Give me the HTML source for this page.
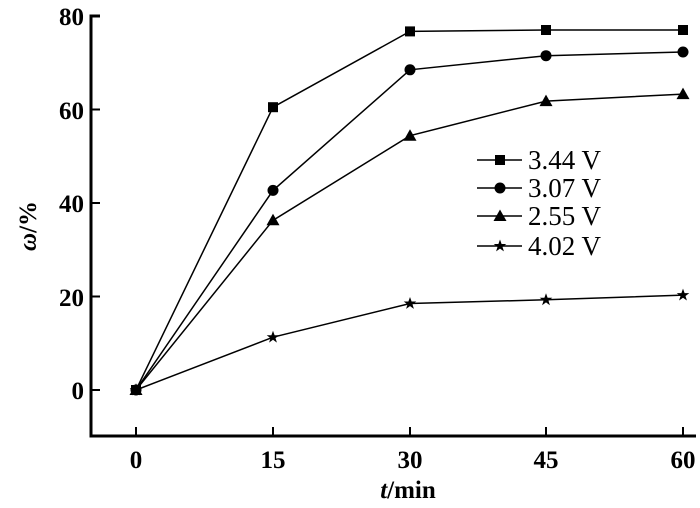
<!DOCTYPE html><html><head><style>body{margin:0;background:#fff}</style></head><body>
<svg width="700" height="503" xmlns="http://www.w3.org/2000/svg" font-family="Liberation Serif, serif" font-weight="bold" font-size="25">
<defs>
<symbol id="sq" overflow="visible"><rect x="-5" y="-5" width="10" height="10"/></symbol>
<symbol id="ci" overflow="visible"><circle r="5.5"/></symbol>
<symbol id="tr" overflow="visible"><polygon points="0,-6.5 6.5,5 -6.5,5"/></symbol>
<symbol id="st" overflow="visible"><polygon points="0,-6.5 1.6,-2 6.3,-2 2.5,0.9 3.9,5.4 0,2.6 -3.9,5.4 -2.5,0.9 -6.3,-2 -1.6,-2"/></symbol>
</defs>
<g stroke="#000" stroke-width="3" fill="none">
<path d="M100,16H91V436H696"/>
</g>
<g stroke="#000" stroke-width="2">
<path d="M91,109.5h9M91,203h9M91,296.5h9M91,390h9M136,436v-9M273,436v-9M410,436v-9M546,436v-9M683,436v-9"/>
</g>
<g text-anchor="end">
<text x="84" y="25">80</text><text x="84" y="119">60</text><text x="84" y="212">40</text><text x="84" y="306">20</text><text x="84" y="399">0</text>
</g>
<g text-anchor="middle">
<text x="136" y="468">0</text><text x="273" y="468">15</text><text x="410" y="468">30</text><text x="546" y="468">45</text><text x="683" y="468">60</text>
<text x="408" y="498"><tspan font-style="italic">t</tspan>/min</text>
</g>
<text transform="translate(36,226) rotate(-90)" text-anchor="middle"><tspan font-style="italic">ω</tspan>/%</text>
<g fill="none" stroke="#000" stroke-width="1.5">
<polyline points="136,390 273,107.2 410,31.4 546,30 683,30"/>
<polyline points="136,390 273,190.4 410,69.8 546,55.7 683,52"/>
<polyline points="136,390 273,220.3 410,135.7 546,101.1 683,94.1"/>
<polyline points="136,390 273,337.2 410,303.5 546,299.8 683,295.1"/>
<path d="M477,160h45M477,188h45M477,216h45M477,246h45"/>
</g>
<g fill="#000">
<use href="#sq" x="136" y="390"/><use href="#sq" x="273" y="107.2"/><use href="#sq" x="410" y="31.4"/><use href="#sq" x="546" y="30"/><use href="#sq" x="683" y="30"/>
<use href="#ci" x="136" y="390"/><use href="#ci" x="273" y="190.4"/><use href="#ci" x="410" y="69.8"/><use href="#ci" x="546" y="55.7"/><use href="#ci" x="683" y="52"/>
<use href="#tr" x="136" y="390"/><use href="#tr" x="273" y="220.3"/><use href="#tr" x="410" y="135.7"/><use href="#tr" x="546" y="101.1"/><use href="#tr" x="683" y="94.1"/>
<use href="#st" x="136" y="390"/><use href="#st" x="273" y="337.2"/><use href="#st" x="410" y="303.5"/><use href="#st" x="546" y="299.8"/><use href="#st" x="683" y="295.1"/>
<use href="#sq" x="500" y="160"/><use href="#ci" x="500" y="188"/><use href="#tr" x="500" y="216"/><use href="#st" x="500" y="246"/>
</g>
<g font-weight="normal" font-size="27">
<text x="528" y="169">3.44 V</text><text x="528" y="197">3.07 V</text><text x="528" y="225">2.55 V</text><text x="528" y="255">4.02 V</text>
</g>
</svg>
</body></html>
